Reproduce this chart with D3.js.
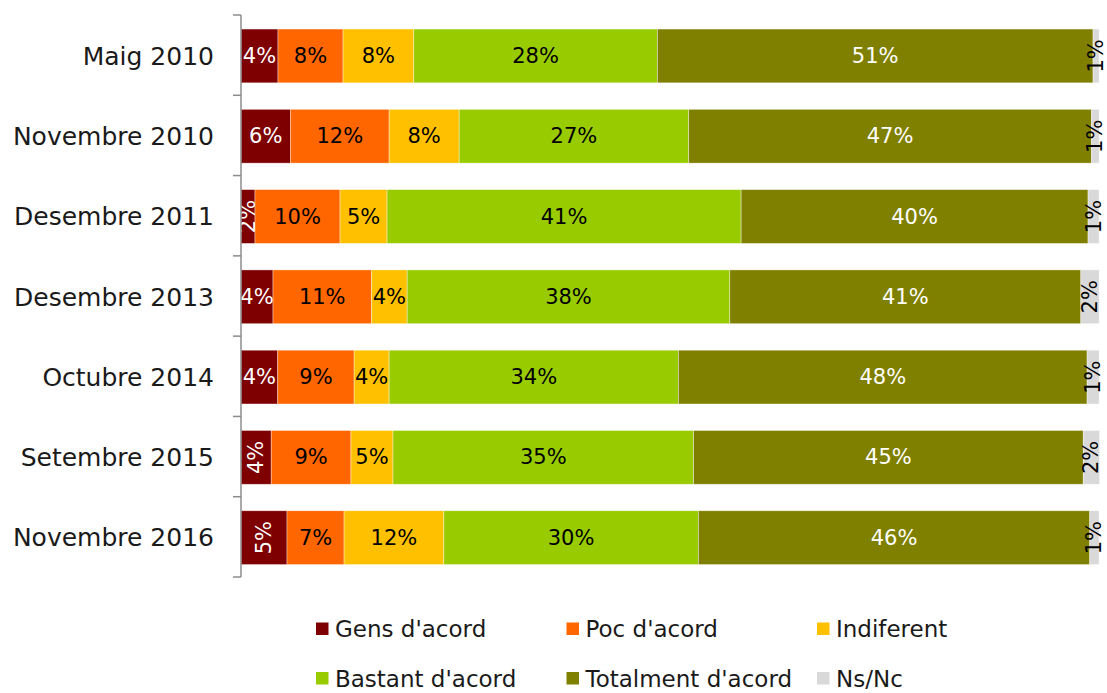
<!DOCTYPE html>
<html>
<head>
<meta charset="utf-8">
<script src="https://cdn.jsdelivr.net/npm/d3@7"></script>
<style>
  html, body { margin: 0; padding: 0; background: #fff; }
  svg { display: block; font-family: 'DejaVu Sans', sans-serif; }
</style>
</head>
<body>
<div id="chart"></div>
<script>
const categories = ['Maig 2010', 'Novembre 2010', 'Desembre 2011', 'Desembre 2013', 'Octubre 2014', 'Setembre 2015', 'Novembre 2016'];
const seriesNames = ["Gens d'acord", "Poc d'acord", 'Indiferent', "Bastant d'acord", "Totalment d'acord", 'Ns/Nc'];
const seriesColors = ['#7f0000', '#ff6600', '#ffc000', '#99cc00', '#808000', '#d9d9d9'];

// percentages per wave (labels are the rounded values)
const gensAcord = [4.31, 5.75, 1.63, 3.73, 4.28, 3.52, 5.36];
const pocAcord = [7.58, 11.51, 9.91, 11.47, 8.90, 9.29, 6.65];
const indiferent = [8.24, 8.16, 5.48, 4.16, 4.08, 4.90, 11.62];
const bastantAcord = [28.38, 26.74, 41.25, 37.59, 33.70, 35.02, 29.66];
const totalmentAcord = [50.76, 46.93, 40.42, 40.90, 47.62, 45.40, 45.60];
const nsNc = [0.70, 0.89, 1.28, 2.13, 1.40, 1.90, 1.08];

// labels that the original shows turned on their side
const verticalLabels = [
  ['Desembre 2011', "Gens d'acord"],
  ['Setembre 2015', "Gens d'acord"],
  ['Novembre 2016', "Gens d'acord"],
];

const seriesValues = [gensAcord, pocAcord, indiferent, bastantAcord, totalmentAcord, nsNc];
const rows = categories.map((cat, i) => {
  const row = { cat };
  seriesNames.forEach((s, j) => { row[s] = seriesValues[j][i]; });
  return row;
});

const width = 1107;
const height = 693;

const svg = d3.select('#chart').append('svg')
  .attr('width', width)
  .attr('height', height);

const x = d3.scaleLinear().domain([0, 100]).range([241, 1099.3]);
const y = d3.scaleBand().domain(categories)
  .range([15, 577])
  .paddingInner(0.33)
  .paddingOuter(0.165);
const color = d3.scaleOrdinal().domain(seriesNames).range(seriesColors);

const stacked = d3.stack().keys(seriesNames)(rows);

const layer = svg.append('g').selectAll('g')
  .data(stacked)
  .enter()
  .append('g')
  .attr('fill', d => color(d.key));

layer.selectAll('rect')
  .data(d => d.map(p => Object.assign(p, { key: d.key })))
  .enter()
  .append('rect')
  .attr('x', d => x(d[0]))
  .attr('y', d => y(d.data.cat) + 0.8)
  .attr('width', d => x(d[1]) - x(d[0]))
  .attr('height', y.bandwidth())
  .attr('stroke', '#fff')
  .attr('stroke-opacity', 0.55)
  .attr('stroke-width', 0.7);

const isVertical = d => d.key === 'Ns/Nc'
  || verticalLabels.some(v => v[0] === d.data.cat && v[1] === d.key);

layer.selectAll('text')
  .data(d => d)
  .enter()
  .append('text')
  .attr('transform', (d) => {
    const cx = (x(d[0]) + x(d[1])) / 2;
    const cy = y(d.data.cat) + y.bandwidth() / 2 + 0.8;
    return isVertical(d) ? `translate(${cx},${cy}) rotate(-90)` : `translate(${cx},${cy})`;
  })
  .attr('text-anchor', 'middle')
  .attr('dominant-baseline', 'central')
  .attr('font-size', 21)
  .attr('fill', d => (d.key === "Gens d'acord" || d.key === "Totalment d'acord" ? '#fff' : '#000'))
  .text(d => `${Math.round(d[1] - d[0])}%`);

// category axis
const axis = svg.append('g');
const step = y.step();
const gap = step - y.bandwidth();
const tickYs = categories.map(c => y(c) - gap / 2).concat([y(categories[categories.length - 1]) + y.bandwidth() + gap / 2]);

axis.append('line')
  .attr('x1', 241).attr('x2', 241)
  .attr('y1', tickYs[0]).attr('y2', tickYs[tickYs.length - 1])
  .attr('stroke', '#8c8c8c')
  .attr('stroke-width', 1.5);

axis.selectAll('.tick')
  .data(tickYs)
  .enter()
  .append('line')
  .attr('class', 'tick')
  .attr('x1', 233).attr('x2', 241)
  .attr('y1', d => d).attr('y2', d => d)
  .attr('stroke', '#8c8c8c')
  .attr('stroke-width', 1.5);

axis.selectAll('.cat')
  .data(categories)
  .enter()
  .append('text')
  .attr('class', 'cat')
  .attr('x', 214)
  .attr('y', d => y(d) + y.bandwidth() / 2 + 1)
  .attr('text-anchor', 'end')
  .attr('dominant-baseline', 'central')
  .attr('font-size', 25)
  .attr('fill', '#1a1a1a')
  .text(d => d);

// legend, 3 columns x 2 rows
const legend = svg.append('g').selectAll('g')
  .data(seriesNames)
  .enter()
  .append('g')
  .attr('transform', (d, i) => `translate(${316 + (i % 3) * 250.5},${629 + Math.floor(i / 3) * 49.5})`);

legend.append('rect')
  .attr('x', 0)
  .attr('y', -6.5)
  .attr('width', 12.5)
  .attr('height', 12.5)
  .attr('fill', d => color(d));

legend.append('text')
  .attr('x', 19)
  .attr('y', 0)
  .attr('dominant-baseline', 'central')
  .attr('font-size', 23)
  .attr('fill', '#1a1a1a')
  .text(d => d);
</script>
</body>
</html>
